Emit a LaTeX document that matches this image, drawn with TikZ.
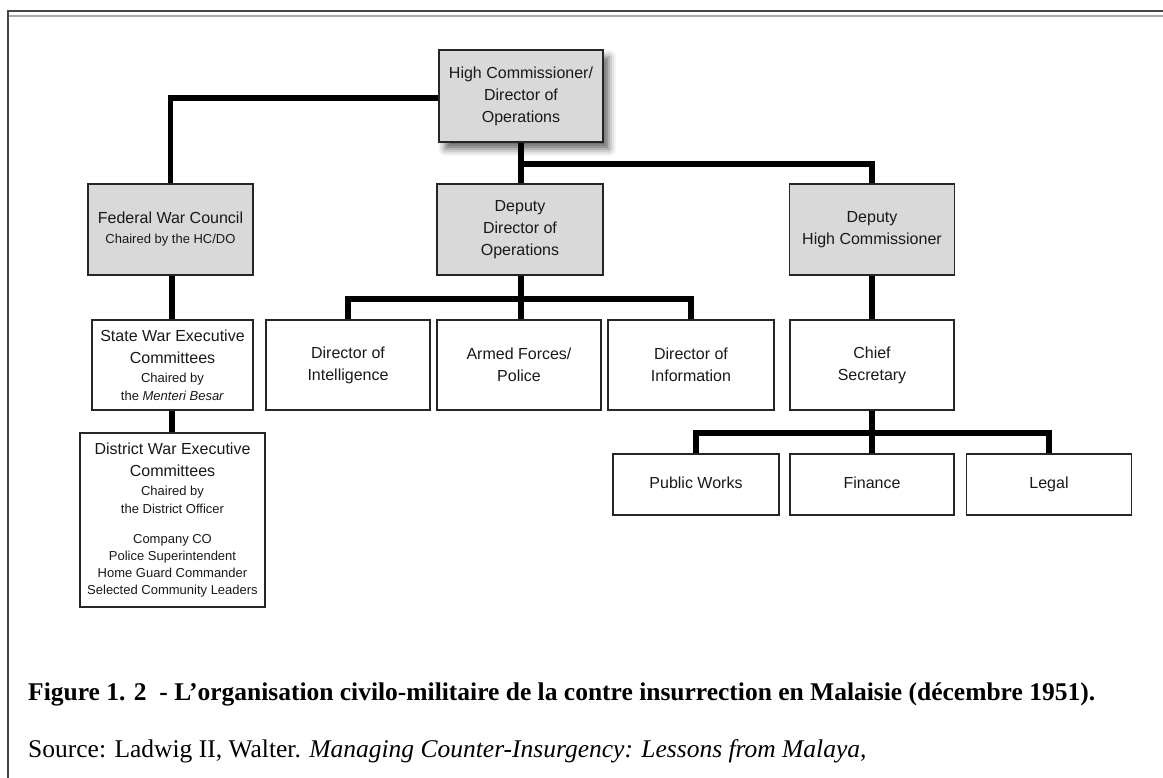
\documentclass[tikz,border=0pt]{standalone}
\usepackage{fontspec}
\setmainfont{Liberation Serif}
\newfontfamily\boxfont{Liberation Sans}
\usetikzlibrary{shadows.blur}
\definecolor{boxgray}{RGB}{217,217,217}
\definecolor{framegray}{RGB}{70,70,70}
\definecolor{lightframe}{RGB}{170,170,170}
\newcommand{\bigtx}{\fontsize{16}{22}\selectfont}
\newcommand{\smtx}{\fontsize{13}{17}\selectfont}
\begin{document}
\begin{tikzpicture}[x=1pt,y=-1pt,
  orgbox/.style={draw=black!85, line width=1.3pt, align=center, inner sep=0pt,
     font=\boxfont\bigtx, text=black!90},
  graybox/.style={orgbox, fill=boxgray},
  onerow/.style={text height=11.5pt, text depth=3.5pt},
  link/.style={line width=5.8pt, black},
]
\useasboundingbox (0,0) rectangle (1163,778);
% frame
\draw[framegray, line width=2pt] (7.5,778) -- (7.5,11.5) -- (1163,11.5);
\draw[lightframe, line width=1.5pt] (8.5,16) -- (1163,16);

% boxes
\node[graybox, minimum width=164pt, minimum height=92pt,
  blur shadow={shadow xshift=6pt, shadow yshift=-7pt, shadow blur radius=7pt, shadow opacity=60}]
  (hc) at (521,96) {High Commissioner/\\Director of\\Operations};
\node[graybox, minimum width=165pt, minimum height=91pt] (fed) at (170.5,229.5)
  {Federal War Council\\[-2pt]{\smtx Chaired by the HC/DO}};
\node[graybox, minimum width=166pt, minimum height=91pt] (ddo) at (520,229.5)
  {Deputy\\Director of\\Operations};
\node[graybox, minimum width=165pt, minimum height=91pt] (dhc) at (872,229.5)
  {Deputy\\High Commissioner};

\node[orgbox, fill=white, minimum width=161pt, minimum height=90pt] (state) at (172.5,365)
  {State War Executive\\Committees\\[-3pt]{\smtx Chaired by}\\[-4pt]{\smtx the \textit{Menteri Besar}}};
\node[orgbox, fill=white, minimum width=185pt, minimum height=174pt] (dist) at (172.5,520)
  {District War Executive\\Committees\\[-3pt]{\smtx Chaired by}\\[-4pt]{\smtx the District Officer}\\[8pt]
   {\smtx Company CO}\\[-5pt]{\smtx Police Superintendent}\\[-5pt]{\smtx Home Guard Commander}\\[-5pt]{\smtx Selected Community Leaders}};

\node[orgbox, fill=white, minimum width=164pt, minimum height=90pt] (intel) at (348,365)
  {Director of\\Intelligence};
\node[orgbox, fill=white, minimum width=164pt, minimum height=90pt] (armed) at (519,365)
  {Armed Forces/\\Police};
\node[orgbox, fill=white, minimum width=166pt, minimum height=90pt] (info) at (691,365)
  {Director of\\Information};
\node[orgbox, fill=white, minimum width=164pt, minimum height=90pt] (chief) at (872,365)
  {Chief\\Secretary};

\node[orgbox, onerow, fill=white, minimum width=166pt, minimum height=61pt] (pw) at (696,484.5)
  {Public Works};
\node[orgbox, onerow, fill=white, minimum width=164pt, minimum height=61pt] (fin) at (872,484.5)
  {Finance};
\node[orgbox, onerow, fill=white, minimum width=165pt, minimum height=61pt] (legal) at (1049,484.5)
  {Legal};

% connectors
\coordinate (b1) at (521,164);
\coordinate (b2) at (521,299);
\coordinate (b3) at (872,433);
\draw[link, line width=5.2pt] (hc.west |- 0,98) -| (fed.north);
\draw[link] (hc.south -| b1) -- (ddo.north -| b1);
\draw[link] (b1) -| (dhc.north);
\draw[link] (ddo.south -| b2) -- (b2);
\draw[link] (intel.north) |- (b2) -| (info.north);
\draw[link] (b2) -- (armed.north -| b2);
\draw[link] (dhc.south) -- (chief.north);
\draw[link] (chief.south) -- (fin.north);
\draw[link] (pw.north) |- (b3) -| (legal.north);
\draw[link] (fed.south -| 172,0) -- (state.north -| 172,0);
\draw[link] (state.south -| 172,0) -- (dist.north -| 172,0);

% caption
\node[anchor=base west, inner sep=0pt, font=\fontsize{25.5}{28}\selectfont\bfseries] (cap) at (28,700)
  {Figure 1. 2\ \ - L’organisation civilo-militaire de la contre insurrection en Malaisie (décembre 1951).};
\node[anchor=base west, inner sep=0pt, font=\fontsize{25.5}{28}\selectfont] (src) at (28,757)
  {Source: Ladwig II, Walter. \textit{Managing Counter-Insurgency: Lessons from Malaya},};
\end{tikzpicture}
\end{document}
